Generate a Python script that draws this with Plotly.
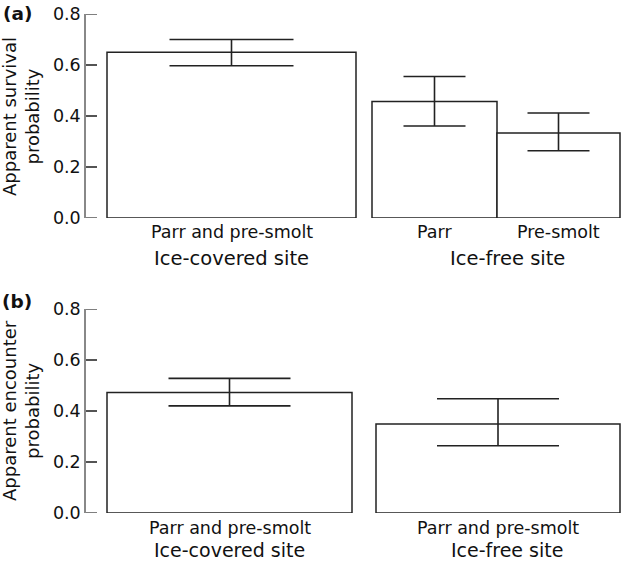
import plotly.graph_objects as go

# ---- data ----
a_groups = ["Ice-covered site", "Ice-free site"]
a_categories = ["Parr and pre-smolt", "Parr", "Pre-smolt"]
a_values = [0.65, 0.457, 0.333]
a_upper = [0.70, 0.555, 0.412]
a_lower = [0.597, 0.361, 0.264]

b_groups = ["Ice-covered site", "Ice-free site"]
b_categories = ["Parr and pre-smolt", "Parr and pre-smolt"]
b_values = [0.473, 0.349]
b_upper = [0.528, 0.448]
b_lower = [0.420, 0.264]

y_ticks = [0.0, 0.2, 0.4, 0.6, 0.8]

# ---- layout constants (pixel geometry) ----
W, H = 622, 561
FONT = "DejaVu Sans"

def py(px):
    return 1 - px / H

UNIT = 124.5
X0 = 107
def xd(px):
    return (px - X0) / UNIT

xrange_ = [xd(86), xd(622)]

a_pos = [xd((107 + 356) / 2), xd((372 + 497) / 2), xd((497 + 620) / 2)]
a_wid = [(356 - 107) / UNIT, (497 - 372) / UNIT, (620 - 497) / UNIT]
a_cap = [62, 31, 31]

b_pos = [xd((107 + 352) / 2), xd((376 + 620) / 2)]
b_wid = [(352 - 107) / UNIT, (620 - 376) / UNIT]
b_cap = [61, 61]

fig = go.Figure()

def add_bars(xs, ws, vals, ups, lows, caps, xa, ya):
    for x, w, v, u, l, c in zip(xs, ws, vals, ups, lows, caps):
        fig.add_trace(go.Bar(
            x=[x], y=[v], width=[w], xaxis=xa, yaxis=ya,
            marker=dict(color="white", line=dict(color="#222", width=1.5)),
            error_y=dict(type="data", symmetric=False, array=[u - v], arrayminus=[v - l],
                         color="#222", thickness=1.6, width=c),
            showlegend=False, hoverinfo="skip", cliponaxis=False))

add_bars(a_pos, a_wid, a_values, a_upper, a_lower, a_cap, "x", "y")
add_bars(b_pos, b_wid, b_values, b_upper, b_lower, b_cap, "x2", "y2")

yax = dict(range=[0, 0.8], tickmode="array", tickvals=y_ticks,
           ticktext=[f"{t:.1f}" for t in y_ticks],
           ticks="inside", ticklen=11, tickcolor="#555", tickwidth=1.5,
           showline=True, linecolor="#888", linewidth=1.5, showgrid=False, zeroline=False,
           tickfont=dict(family=FONT, size=17.5, color="#111"), automargin=False)
xax = dict(range=xrange_, showticklabels=False, showline=False, ticks="",
           showgrid=False, zeroline=False, automargin=False)

fig.update_layout(
    width=W, height=H, margin=dict(l=0, r=0, t=0, b=0, pad=0),
    paper_bgcolor="white", plot_bgcolor="white",
    barmode="overlay",
    xaxis=dict(domain=[86 / W, 1], anchor="y", **xax),
    xaxis2=dict(domain=[86 / W, 1], anchor="y2", **xax),
    yaxis=dict(domain=[py(218), py(14)], anchor="x", **yax),
    yaxis2=dict(domain=[py(513), py(309)], anchor="x2", **yax),
)

# tick marks pointing into the plot (drawn at the axis tick values)
TICK_FRAC = 11 / (W - 86)
for xa, ya in (("x", "y"), ("x2", "y2")):
    for t in y_ticks:
        fig.add_shape(type="line", xref=f"{xa} domain", yref=ya, x0=0, x1=TICK_FRAC,
                      y0=t, y1=t, line=dict(color="#555", width=1.5), layer="above")

ann = []
def txt(text, x, xref, ypx, size, bold=False, angle=0):
    ann.append(dict(text=f"<b>{text}</b>" if bold else text, x=x, xref=xref, y=py(ypx), yref="paper",
                    showarrow=False, xanchor="center", yanchor="middle", textangle=angle,
                    font=dict(family=FONT, size=size, color="#111")))

txt(a_categories[0], a_pos[0], "x", 232, 17.5)
txt(a_categories[1], a_pos[1], "x", 232, 17.5)
txt(a_categories[2], a_pos[2], "x", 232, 17.5)
txt(a_groups[0], a_pos[0], "x", 258, 19.5)
txt(a_groups[1], xd(507), "x", 258, 19.5)
txt("Apparent survival<br>probability", 21 / W, "paper", 117, 18, angle=-90)
txt("(a)", 17 / W, "paper", 14, 18.5, bold=True)

txt(b_categories[0], b_pos[0], "x2", 528, 17.5)
txt(b_categories[1], b_pos[1], "x2", 528, 17.5)
txt(b_groups[0], b_pos[0], "x2", 550, 19)
txt(b_groups[1], xd(507), "x2", 550, 19)
txt("Apparent encounter<br>probability", 21 / W, "paper", 411, 18, angle=-90)
txt("(b)", 17 / W, "paper", 301, 18.5, bold=True)

fig.update_layout(annotations=ann)

post = """
var h=document.documentElement, b=document.body;
h.style.margin='0';h.style.padding='0';h.style.overflow='hidden';
b.style.margin='0';b.style.padding='0';b.style.overflow='hidden';
"""
fig.write_html("out.html", post_script=post, config={"displayModeBar": False})
